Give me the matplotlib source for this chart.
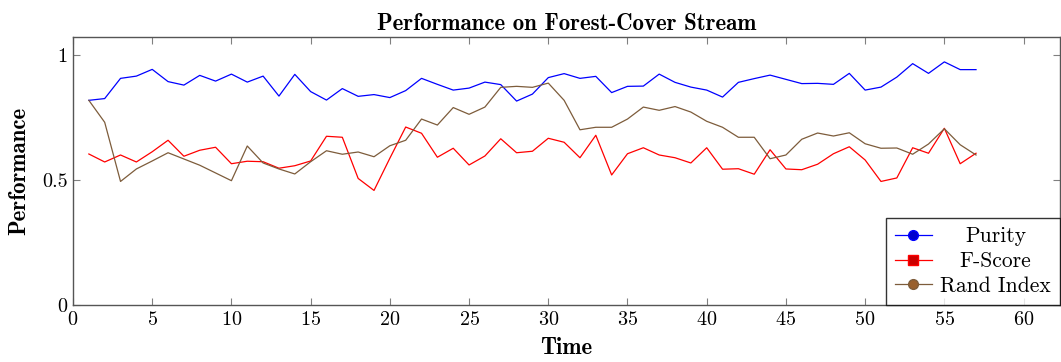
import matplotlib
matplotlib.use("Agg")
import matplotlib.pyplot as plt
from matplotlib.ticker import FuncFormatter

time = list(range(1, 58))
purity = [0.820, 0.827, 0.908, 0.917, 0.944, 0.895, 0.881, 0.920, 0.897, 0.925,
          0.893, 0.917, 0.837, 0.924, 0.855, 0.821, 0.867, 0.836, 0.843, 0.831,
          0.859, 0.908, 0.884, 0.861, 0.869, 0.893, 0.883, 0.817, 0.845, 0.911,
          0.927, 0.908, 0.916, 0.851, 0.876, 0.877, 0.925, 0.892, 0.873, 0.861,
          0.833, 0.892, 0.907, 0.921, 0.904, 0.887, 0.888, 0.884, 0.928, 0.861,
          0.873, 0.913, 0.967, 0.928, 0.974, 0.943, 0.943]
fscore = [0.605, 0.573, 0.601, 0.573, 0.614, 0.660, 0.596, 0.620, 0.632, 0.566,
          0.576, 0.574, 0.548, 0.558, 0.577, 0.676, 0.672, 0.507, 0.459, 0.588,
          0.713, 0.688, 0.592, 0.628, 0.561, 0.597, 0.666, 0.610, 0.616, 0.668,
          0.652, 0.590, 0.680, 0.521, 0.606, 0.630, 0.601, 0.590, 0.569, 0.630,
          0.544, 0.546, 0.524, 0.622, 0.545, 0.542, 0.564, 0.606, 0.634, 0.581,
          0.495, 0.509, 0.630, 0.608, 0.708, 0.566, 0.608]
rand_index = [0.820, 0.732, 0.495, 0.545, 0.577, 0.610, 0.585, 0.560, 0.529, 0.498,
              0.637, 0.569, 0.545, 0.525, 0.574, 0.618, 0.604, 0.613, 0.594, 0.638,
              0.660, 0.745, 0.721, 0.791, 0.764, 0.793, 0.872, 0.876, 0.872, 0.889,
              0.820, 0.702, 0.712, 0.712, 0.745, 0.793, 0.780, 0.795, 0.773, 0.736,
              0.712, 0.672, 0.672, 0.586, 0.601, 0.664, 0.689, 0.677, 0.690, 0.646,
              0.628, 0.629, 0.604, 0.645, 0.706, 0.642, 0.601]

x_ticks = [0, 5, 10, 15, 20, 25, 30, 35, 40, 45, 50, 55, 60]
y_ticks = [0, 0.5, 1]

plt.rcParams['font.family'] = 'serif'
plt.rcParams['font.serif'] = ['cmr10']
plt.rcParams['axes.formatter.use_mathtext'] = True
plt.rcParams['mathtext.fontset'] = 'cm'

fig = plt.figure(figsize=(10.61, 3.62), dpi=100)
ax = fig.add_axes([73/1061, 1 - 305/362, (1060 - 73)/1061, (305 - 37.3)/362])

lw = 0.9
ax.plot(time, purity, color='#0000ff', lw=lw, label='Purity',
        marker='o', markevery=[], markersize=7, markerfacecolor='#0000cc')
ax.plot(time, fscore, color='#ff0000', lw=lw, label='F-Score',
        marker='s', markevery=[], markersize=6.5, markerfacecolor='#cc0000')
ax.plot(time, rand_index, color='#7d5c3b', lw=lw, label='Rand Index',
        marker='o', markevery=[], markersize=7, markerfacecolor='#99602e')

ax.set_xlim(0, 62.3)
ax.set_ylim(0, 1.0725)
ax.set_xticks(x_ticks)
ax.set_yticks(y_ticks)
ax.yaxis.set_major_formatter(FuncFormatter(lambda v, p: f"{v:g}"))
ax.tick_params(direction='in', top=True, right=True, length=5, width=0.8,
               color='#808080', labelsize=14.5, pad=4)
for s in ax.spines.values():
    s.set_color('#555555')
    s.set_linewidth(1.0)

ax.set_title('Performance on Forest-Cover Stream', fontfamily='cmb10',
             fontsize=16.5, pad=5)
ax.set_xlabel('Time', fontfamily='cmb10', fontsize=16.5, labelpad=6)
ax.set_ylabel('Performance', fontfamily='cmb10', fontsize=16.5, labelpad=8)

leg = ax.legend(loc='lower right', fontsize=15.5, frameon=True, fancybox=False,
                edgecolor='black', borderaxespad=0, handlelength=1.7,
                labelspacing=0.25, borderpad=0.42, handletextpad=0.4)
leg.get_frame().set_linewidth(1.0)

# centre the legend labels in their column, as in the reference
fig.canvas.draw()
r = fig.canvas.get_renderer()
texts = leg.get_texts()
ws = [t.get_window_extent(r).width for t in texts]
maxw = max(ws)
rows = leg._legend_handle_box.get_children()[0].get_children()
for row, w in zip(rows, ws):
    row.sep += (maxw - w) / 2 * 72 / fig.dpi

fig.savefig('out.png', dpi=100)
